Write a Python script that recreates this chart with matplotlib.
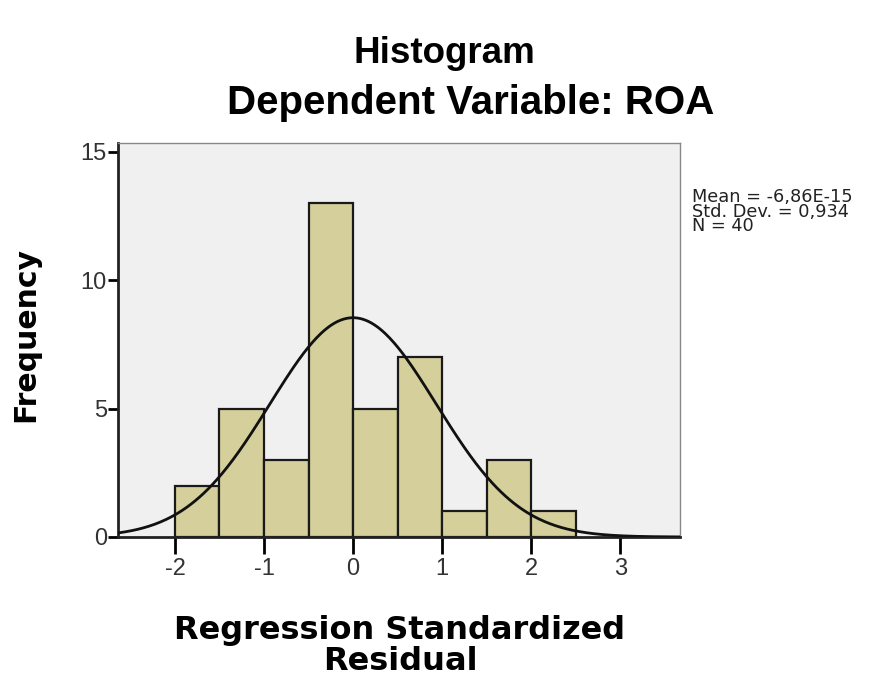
import numpy as np
import matplotlib.pyplot as plt

# residual histogram (SPSS style)
bin_edges = [-2.0, -1.5, -1.0, -0.5, 0.0, 0.5, 1.0, 1.5, 2.0, 2.5]
counts = [2, 5, 3, 13, 5, 7, 1, 3, 1]
mean = -6.86e-15
std_dev = 0.934
n = 40
x_ticks = [-2, -1, 0, 1, 2, 3]
y_ticks = [0, 5, 10, 15]

plt.rcParams['font.family'] = ['Liberation Sans', 'DejaVu Sans']
plt.rcParams['axes.unicode_minus'] = False

fig = plt.figure(figsize=(8.89, 6.77), dpi=100)
ax = fig.add_axes([0.1327, 0.2068, 0.632, 0.582])
ax.set_facecolor('#f0f0f0')

widths = np.diff(bin_edges)
ax.bar(bin_edges[:-1], counts, width=widths, align='edge',
       color='#d4cf9b', edgecolor='#1a1a1a', linewidth=1.6, zorder=2)

# fitted normal curve scaled to counts
bw = bin_edges[1] - bin_edges[0]
xs = np.linspace(-2.64, 3.67, 400)
ys = n * bw * np.exp(-0.5 * ((xs - mean) / std_dev) ** 2) / (std_dev * np.sqrt(2 * np.pi))
ax.plot(xs, ys, color='#111111', linewidth=2, zorder=3)

ax.set_xlim(-2.64, 3.67)
ax.set_ylim(0, 15.35)
ax.set_xticks(x_ticks)
ax.set_yticks(y_ticks)
ax.tick_params(axis='x', length=12, width=2, labelsize=17, pad=3)
ax.tick_params(axis='y', length=7, width=2, labelsize=17, pad=1)
for lab in ax.get_xticklabels() + ax.get_yticklabels():
    lab.set_color('#333333')

for s in ['left', 'bottom']:
    ax.spines[s].set_linewidth(2)
    ax.spines[s].set_color('#222222')
for s in ['top', 'right']:
    ax.spines[s].set_linewidth(1)
    ax.spines[s].set_color('#888888')

ax.set_ylabel('Frequency', fontsize=21.5, fontweight='bold', family='DejaVu Sans')
ax.yaxis.set_label_coords(-0.138, 0.513)
ax.set_xlabel('Regression Standardized\nResidual', fontsize=23, fontweight='bold',
              family='DejaVu Sans', linespacing=1.0)
ax.xaxis.set_label_coords(0.502, -0.197)

fig.text(0.5, 0.921, 'Histogram', ha='center', va='center', fontsize=26.5, fontweight='bold')
fig.text(0.53, 0.848, 'Dependent Variable: ROA', ha='center', va='center', fontsize=29,
         fontweight='bold')

fig.text(0.778, 0.722, 'Mean = -6,86E-15\nStd. Dev. = 0,934\nN = 40', ha='left', va='top',
         fontsize=12.8, linespacing=0.74, color='#222222', family='DejaVu Sans')

fig.savefig('out.png', dpi=100)
